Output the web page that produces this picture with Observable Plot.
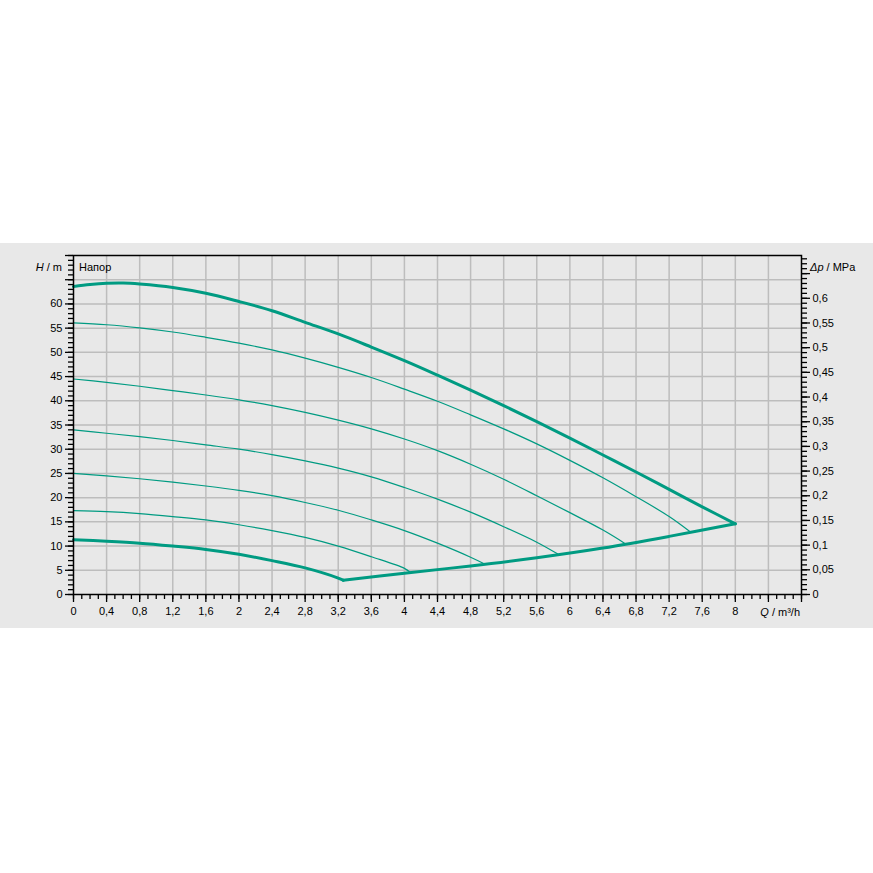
<!DOCTYPE html>
<html><head><meta charset="utf-8">
<script src="https://cdn.jsdelivr.net/npm/d3@7"></script>
<script src="https://cdn.jsdelivr.net/npm/@observablehq/plot@0.6"></script>
<style>
html,body{margin:0;padding:0;background:#fff;}
#band{position:absolute;left:0;top:243px;width:873px;height:385px;background:#e8e8e8;}
#band svg{display:block;}
</style></head><body>
<div id="band"></div>
<script>
// ---- data (Q in m³/h, H in m) ----
const curveMax = [[0,63.6],[0.2,64.0],[0.4,64.25],[0.6,64.3],[0.8,64.1],[1.2,63.4],[1.6,62.2],[2.0,60.5],[2.4,58.6],[2.8,56.2],[3.2,53.8],[3.6,51.1],[4.0,48.3],[4.4,45.3],[4.8,42.2],[5.2,39.0],[5.6,35.7],[6.0,32.3],[6.4,28.8],[6.8,25.3],[7.2,21.7],[7.6,18.1],[8.0,14.6]];
const curve2 = [[0,56.1],[0.4,55.7],[0.8,55.05],[1.2,54.2],[1.6,53.1],[2.0,51.9],[2.4,50.5],[2.8,48.8],[3.2,46.9],[3.6,44.8],[4.0,42.4],[4.4,39.9],[4.8,37.1],[5.2,34.2],[5.6,31.1],[6.0,27.7],[6.4,24.1],[6.8,20.2],[7.2,16.1],[7.45,13.0]];
const curve3 = [[0,44.5],[0.4,43.8],[0.8,43.0],[1.2,42.1],[1.6,41.2],[2.0,40.2],[2.4,39.0],[2.8,37.6],[3.2,36.0],[3.6,34.2],[4.0,32.1],[4.4,29.7],[4.8,26.9],[5.2,23.8],[5.6,20.4],[6.0,16.9],[6.4,13.3],[6.66,10.6]];
const curve4 = [[0,34.0],[0.4,33.3],[0.8,32.6],[1.2,31.8],[1.6,30.9],[2.0,30.0],[2.4,28.9],[2.8,27.6],[3.2,26.1],[3.6,24.3],[4.0,22.1],[4.4,19.7],[4.8,17.0],[5.2,14.0],[5.6,10.8],[5.85,8.4]];
const curve5 = [[0,25.0],[0.4,24.5],[0.8,23.9],[1.2,23.2],[1.6,22.4],[2.0,21.5],[2.4,20.4],[2.8,19.0],[3.2,17.4],[3.6,15.4],[4.0,13.2],[4.4,10.6],[4.8,7.7],[4.97,6.3]];
const curve6 = [[0,17.3],[0.4,17.1],[0.8,16.7],[1.2,16.1],[1.6,15.4],[2.0,14.4],[2.4,13.2],[2.8,11.8],[3.2,10.0],[3.6,7.8],[4.0,5.4],[4.07,4.6]];
const curveMin = [[0,11.3],[0.4,11.0],[0.8,10.6],[1.2,10.0],[1.6,9.3],[2.0,8.3],[2.4,7.0],[2.8,5.5],[3.2,3.4],[3.26,2.95]];
const boundary = [[3.26,2.95],[4.0,4.4],[4.8,5.9],[5.6,7.6],[6.4,9.6],[7.2,12.0],[8.0,14.6]];

// ---- axes ----
const xMajor = [0,0.4,0.8,1.2,1.6,2,2.4,2.8,3.2,3.6,4,4.4,4.8,5.2,5.6,6,6.4,6.8,7.2,7.6,8];
const xExtraMajor = [8.4,8.8];
const yMajor = [0,5,10,15,20,25,30,35,40,45,50,55,60];
const yExtraMajor = [65,70];
const pMajor = [0,0.05,0.1,0.15,0.2,0.25,0.3,0.35,0.4,0.45,0.5,0.55,0.6];
const pExtraMajor = [0.65];
const xGrid = [0.4,0.8,1.2,1.6,2,2.4,2.8,3.2,3.6,4,4.4,4.8,5.2,5.6,6,6.4,6.8,7.2,7.6,8,8.4];
const yGrid = [5,10,15,20,25,30,35,40,45,50,55,60,65];
const M_PER_MPA = 1e6 / (1000 * 9.81);

const xMinor = d3.range(0, 89).map(i => i / 10);
const yMinor = d3.range(0, 71);
const pMinor = d3.range(0, 69).map(i => i / 100);

const comma = v => String(+v.toFixed(2)).replace(".", ",");
const teal = "#009b82";
const line = (data, w) => Plot.line(data, {x: d => d[0], y: d => d[1], stroke: teal, strokeWidth: w, curve: "catmull-rom"});

const plot = Plot.plot({
  width: 873, height: 385,
  marginLeft: 73, marginRight: 72, marginTop: 12, marginBottom: 34,
  style: {background: "transparent", fontFamily: "'Liberation Sans', Arial, sans-serif", fontSize: "11px", color: "#000"},
  x: {domain: [0, 8.8]},
  y: {domain: [0, 70]},
  marks: [
    Plot.gridX(xGrid, {stroke: "#bdbdbd", strokeOpacity: 1, strokeWidth: 1.5}),
    Plot.gridY(yGrid, {stroke: "#bdbdbd", strokeOpacity: 1, strokeWidth: 1.5}),
    line(curve6, 1.2), line(curve5, 1.2), line(curve4, 1.2), line(curve3, 1.2), line(curve2, 1.2),
    line(curveMin, 3), line(boundary, 3), line(curveMax, 3),
    Plot.frame({stroke: "#000", strokeWidth: 1.5}),
    // bottom axis
    Plot.axisX(xMinor, {tickSize: 5, tickFormat: () => "", label: null, stroke: "#000", strokeWidth: 1.3}),
    Plot.axisX(xExtraMajor, {tickSize: 8, tickFormat: () => "", label: null, stroke: "#000", strokeWidth: 1.3}),
    Plot.axisX(xMajor, {tickSize: 8, tickPadding: 5, tickFormat: comma, label: null, stroke: "#000", strokeWidth: 1.3, fill: "#000"}),
    // left axis
    Plot.axisY(yMinor, {anchor: "left", tickSize: 5, tickFormat: () => "", label: null, stroke: "#000", strokeWidth: 1.3}),
    Plot.axisY(yExtraMajor, {anchor: "left", tickSize: 8, tickFormat: () => "", label: null, stroke: "#000", strokeWidth: 1.3}),
    Plot.axisY(yMajor, {anchor: "left", tickSize: 8, tickPadding: 3, tickFormat: d => String(d), label: null, stroke: "#000", strokeWidth: 1.3, fill: "#000"}),
    // right axis (MPa)
    Plot.axisY(pMinor.map(p => p * M_PER_MPA), {anchor: "right", tickSize: 5, tickFormat: () => "", label: null, stroke: "#000", strokeWidth: 1.3}),
    Plot.axisY(pExtraMajor.map(p => p * M_PER_MPA), {anchor: "right", tickSize: 8, tickFormat: () => "", label: null, stroke: "#000", strokeWidth: 1.3}),
    Plot.axisY(pMajor.map(p => p * M_PER_MPA), {anchor: "right", tickSize: 8, tickPadding: 3, tickFormat: d => comma(d / M_PER_MPA), label: null, stroke: "#000", strokeWidth: 1.3, fill: "#000"})
  ]
});
document.getElementById("band").appendChild(plot);

// axis titles with italic quantity symbols
const svg = d3.select(plot);
const addLabel = (x, y, anchor, sym, rest) => {
  const t = svg.append("text").attr("x", x).attr("y", y).attr("text-anchor", anchor)
    .attr("dominant-baseline", "middle").attr("font-size", 11).attr("fill", "#000")
    .attr("font-family", "'Liberation Sans', Arial, sans-serif");
  if (sym) t.append("tspan").attr("font-style", "italic").text(sym);
  t.append("tspan").text(rest);
};
addLabel(62, 25, "end", "H", " / m");
addLabel(810, 25, "start", "Δp", " / MPa");
addLabel(800, 370, "end", "Q", " / m³/h");
addLabel(79, 25, "start", null, "Напор");
</script>
</body></html>
